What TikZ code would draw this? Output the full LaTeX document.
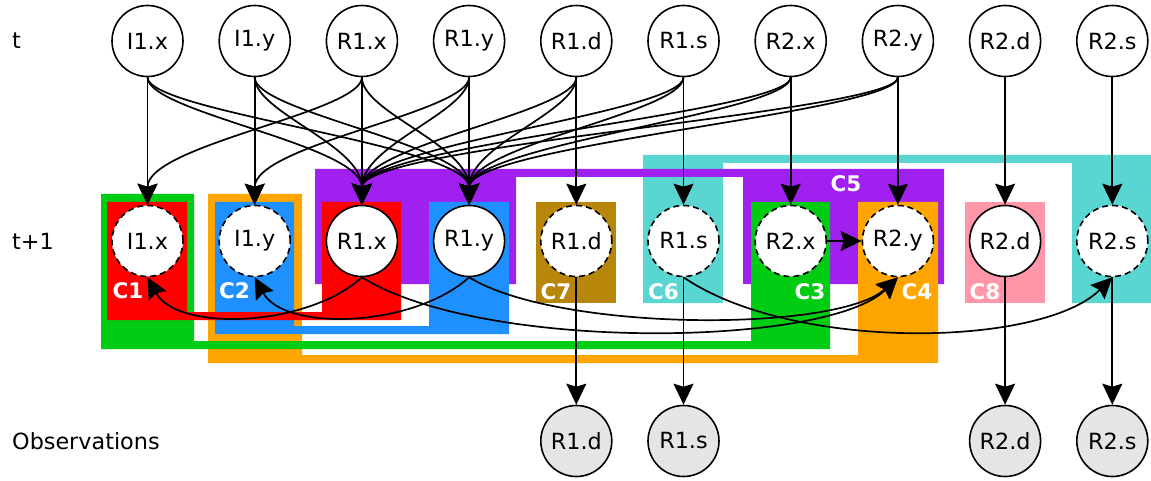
\documentclass[tikz,border=0pt]{standalone}
\usepackage{fontspec}
\setmainfont{DejaVu Sans}
\usepackage{xcolor}
\usepackage{tikz}
\usetikzlibrary{arrows.meta}

\definecolor{cred}{HTML}{FF0000}
\definecolor{cgreen}{HTML}{00CC14}
\definecolor{cblue}{HTML}{1E90FF}
\definecolor{corange}{HTML}{FFA500}
\definecolor{cpurple}{HTML}{A020F0}
\definecolor{cturq}{HTML}{5AD6D2}
\definecolor{cgold}{HTML}{B8860B}
\definecolor{cpink}{HTML}{FF97A8}
\definecolor{obsgray}{HTML}{E5E5E5}

\newcommand{\varfont}{\fontsize{22.3}{25}\selectfont}
\newcommand{\clusfont}{\fontsize{21.5}{24}\selectfont\bfseries}

\tikzset{
  vnode/.style={circle,draw,line width=1.6pt,fill=white,minimum size=71pt,inner sep=0pt,font=\varfont},
  hnode/.style={vnode,dash pattern=on 6pt off 4pt},
  onode/.style={vnode,fill=obsgray},
  dep/.style={line width=1.7pt,-{Stealth[length=21pt,width=20pt,inset=3pt]}},
  clab/.style={text=white,inner sep=0pt,font=\clusfont},
  rowlab/.style={anchor=west,inner sep=0pt,font=\varfont}
}

\begin{document}
\begin{tikzpicture}[x=1pt,y=-1pt]
            \useasboundingbox (0,0) rectangle (1151,481);

            % clusters
            \fill[cturq] (643,155) -- (1151,155) -- (1151,303) -- (1072,303) -- (1072,163) -- (723,163) -- (723,303) -- (643,303) -- cycle;
            \fill[cpurple] (315,169) -- (944,169) -- (944,284) -- (743,284) -- (743,177) -- (516,177) -- (516,284) -- (315,284) -- cycle;
            \fill[corange] (208,194) -- (302,194) -- (302,355) -- (858,355) -- (858,202) -- (938,202) -- (938,363) -- (208,363) -- cycle;
            \fill[cgreen] (101,194) -- (194,194) -- (194,341) -- (751,341) -- (751,202) -- (830,202) -- (830,349) -- (101,349) -- cycle;
            \fill[cblue] (215,202) -- (294,202) -- (294,326) -- (429,326) -- (429,202) -- (509,202) -- (509,334) -- (215,334) -- cycle;
            \fill[cred] (107,202) -- (187,202) -- (187,312) -- (322,312) -- (322,202) -- (401,202) -- (401,320) -- (107,320) -- cycle;
            \fill[cgold] (536,202) rectangle (616,303);
            \fill[cpink] (965,202) rectangle (1045,303);

            \node[clab] (lab-C1) at (128,291) {C1};
            \node[clab] (lab-C2) at (234.5,291) {C2};
            \node[clab] (lab-C3) at (810,291.5) {C3};
            \node[clab] (lab-C4) at (917,291.5) {C4};
            \node[clab] (lab-C5) at (846,183.5) {C5};
            \node[clab] (lab-C6) at (663.5,291.5) {C6};
            \node[clab] (lab-C7) at (556,291.5) {C7};
            \node[clab] (lab-C8) at (985,291.5) {C8};

            % rows
            \node[rowlab] (lab-t) at (12,41) {t};
            \node[rowlab] (lab-t1) at (12,241) {t+1};
            \node[rowlab] (lab-obs) at (12,441) {Observations};

            \foreach \nm/\lab [count=\i from 0] in {I1x/I1.x,I1y/I1.y,R1x/R1.x,R1y/R1.y,R1d/R1.d,R1s/R1.s,R2x/R2.x,R2y/R2.y,R2d/R2.d,R2s/R2.s}
                \node[vnode] (t-\nm) at ({147.5+107.2*\i},41) {\lab};
            \foreach \nm/\lab/\sty [count=\i from 0] in {I1x/I1.x/hnode,I1y/I1.y/hnode,R1x/R1.x/vnode,R1y/R1.y/vnode,R1d/R1.d/hnode,R1s/R1.s/hnode,R2x/R2.x/hnode,R2y/R2.y/hnode,R2d/R2.d/vnode,R2s/R2.s/hnode}
                \node[\sty] (n-\nm) at ({147.5+107.2*\i},241) {\lab};
            \foreach \nm/\lab/\i in {R1d/R1.d/4,R1s/R1.s/5,R2d/R2.d/8,R2s/R2.s/9}
                \node[onode] (o-\nm) at ({147.5+107.2*\i},441) {\lab};

            % t -> t+1
            \foreach \s/\d in {I1x/I1x,I1x/R1x,I1x/R1y,I1y/I1y,I1y/R1x,I1y/R1y,
                R1x/I1x,R1x/R1x,R1x/R1y,R1y/I1y,R1y/R1x,R1y/R1y,
                R1d/R1d,R1d/R1x,R1d/R1y,R1s/R1s,R1s/R1x,R1s/R1y,
                R2x/R2x,R2x/R1x,R2x/R1y,R2y/R2y,R2y/R1x,R2y/R1y,
                R2d/R2d,R2s/R2s}
                \draw[dep] (t-\s.south) .. controls +(0,35) and +(0,-60) .. (n-\d.north);

            % within t+1
            \draw[dep] (n-R1x.south) .. controls +(-55,50) and +(30,55) .. (n-I1x.south);
            \draw[dep] (n-R1y.south) .. controls +(-55,50) and +(30,55) .. (n-I1y.south);
            \draw[dep] (n-R1x.south) .. controls +(120,75) and +(-70,70) .. (n-R2y.south);
            \draw[dep] (n-R1y.south) .. controls +(90,55) and +(-60,55) .. (n-R2y.south);
            \draw[dep] (n-R1s.south) .. controls +(110,75) and +(-70,70) .. (n-R2s.south);
            \draw[dep] (n-R2x) -- (n-R2y);

            % observations
            \foreach \nm in {R1d,R1s,R2d,R2s}
                \draw[dep] (n-\nm) -- (o-\nm);
\end{tikzpicture}
\end{document}
